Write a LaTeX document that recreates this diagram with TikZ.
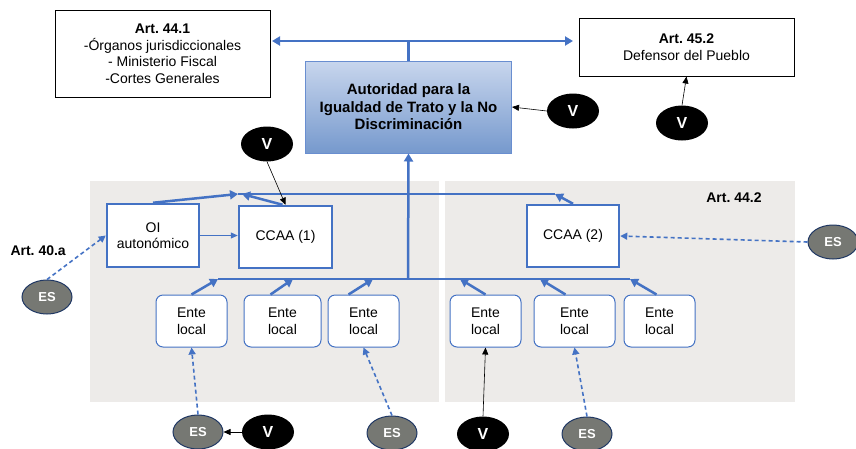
\documentclass[tikz,border=0pt]{standalone}
\usepackage{fontspec}
\setmainfont{Liberation Sans}
\usetikzlibrary{arrows.meta,shapes.geometric,positioning}
\frenchspacing
\definecolor{ablue}{RGB}{68,114,196}
\definecolor{panelgrey}{RGB}{237,235,233}
\definecolor{esgrey}{RGB}{118,120,115}
\definecolor{esborder}{RGB}{32,56,100}
\definecolor{authtop}{RGB}{200,214,237}
\definecolor{authbot}{RGB}{118,153,205}

\begin{document}
\begin{tikzpicture}[x=1pt, y=-1pt,
    every node/.style={font=\fontsize{14}{16.5}\selectfont},
    artbox/.style={draw, line width=1pt, align=center, inner sep=0pt},
    ccbox/.style={draw=ablue, line width=2.5pt, fill=white, align=center, inner sep=0pt},
    entebox/.style={draw=ablue, line width=1pt, fill=white, rounded corners=7pt,
        minimum height=52pt, align=center, inner sep=0pt},
    vnode/.style={ellipse, fill=black, minimum width=52pt, minimum height=35pt,
        text=white, font=\bfseries\fontsize{16}{18}\selectfont},
    esnode/.style={ellipse, draw=esborder, line width=1pt, fill=esgrey,
        minimum width=50pt, minimum height=34pt, text=white,
        font=\bfseries\fontsize{13}{15}\selectfont},
    bus/.style={ablue, line width=2.5pt},
    busarrow/.style={ablue, line width=2.5pt, -{Triangle[length=8pt,width=9pt]}},
    linkarrow/.style={ablue, line width=1pt, -{Triangle[length=7pt,width=6pt]}},
    esarrow/.style={ablue, line width=1.6pt, dash pattern=on 4pt off 3pt,
        -{Triangle[length=7pt,width=7pt]}},
    varrow/.style={black, line width=0.6pt, -{Triangle[length=7pt,width=6pt]}}]

    \useasboundingbox (0,0) rectangle (856,448);
    \fill[panelgrey] (90,181) rectangle (439,402);
    \fill[panelgrey] (445,181) rectangle (795,402);

    \node[artbox, minimum width=215pt, minimum height=87pt] (art441) at (162.5,53.5)
        {\textbf{Art. 44.1}\\-Órganos jurisdiccionales\\- Ministerio Fiscal\\-Cortes Generales};
    \node[artbox, minimum width=215pt, minimum height=58pt] (art452) at (686.5,47)
        {\textbf{Art. 45.2}\\Defensor del Pueblo};
    \node[draw=ablue!80, line width=1pt, top color=authtop, bottom color=authbot,
        minimum width=206pt, minimum height=92pt, align=center, inner sep=0pt,
        font=\bfseries\fontsize{15}{17.5}\selectfont] (auth) at (408.5,107)
        {Autoridad para la\\Igualdad de Trato y la No\\Discriminación};

    \node[ccbox, minimum width=92pt, minimum height=63pt] (oi) at (153,235.5) {OI\\autonómico};
    \node[ccbox, minimum width=93pt, minimum height=62pt] (ccaa1) at (285.5,237) {CCAA (1)};
    \node[ccbox, minimum width=92pt, minimum height=62pt] (ccaa2) at (573,236) {CCAA (2)};

    \node[entebox, minimum width=71pt] (ente1) at (191.5,321) {Ente\\local};
    \node[entebox, minimum width=77pt] (ente2) at (282.5,321) {Ente\\local};
    \node[entebox, minimum width=71pt] (ente3) at (363.5,321) {Ente\\local};
    \node[entebox, minimum width=71pt] (ente4) at (485.5,321) {Ente\\local};
    \node[entebox, minimum width=81pt] (ente5) at (574.5,321) {Ente\\local};
    \node[entebox, minimum width=71pt] (ente6) at (659.5,321) {Ente\\local};

    \node[font=\bfseries\fontsize{14}{16}\selectfont] (art442) at (734,198) {Art. 44.2};
    \node[font=\bfseries\fontsize{14}{16}\selectfont, anchor=west] (art40) at (7,251) {Art. 40.a};

    \node[vnode] (vauth) at (573,111) {V};
    \node[vnode] (vdef) at (682,123) {V};
    \node[vnode] (vccaa) at (267,144) {V};
    \node[vnode] (vbot1) at (268,432) {V};
    \node[vnode] (vbot2) at (483,434) {V};

    \node[esnode] (esleft) at (47,297) {ES};
    \node[esnode] (esright) at (833,242) {ES};
    \node[esnode] (esbot1) at (198,432) {ES};
    \node[esnode] (esbot2) at (392,433) {ES};
    \node[esnode] (esbot3) at (587,434) {ES};

    % bus points
    \coordinate (topl) at (272,41);
    \coordinate (topr) at (573,41);
    \coordinate (upl) at (238,194);
    \coordinate (upr) at (555,194);
    \coordinate (lowl) at (218,279);
    \coordinate (lowr) at (630,279);
    \coordinate (lowj) at (408,279);

    \draw[bus, {Triangle[length=8pt,width=9pt]}-{Triangle[length=8pt,width=9pt]}] (topl) -- (topr);
    \draw[bus] (auth.north) -- (auth.north |- topl);
    \draw[busarrow] (lowj) -- (auth.south);
    \draw[bus] (upl) -- (upr);
    \draw[bus] (lowl) -- (lowr);

    \draw[busarrow] (oi.north) -- (upl);
    \draw[busarrow] ([xshift=-3pt]ccaa1.north) -- ([xshift=4pt]upl);
    \draw[busarrow] (ccaa2.north) -- (upr);

    \draw[busarrow] (ente1.north) -- (lowl);
    \draw[busarrow] ([xshift=-12pt]ente2.north) -- (293,279);
    \draw[busarrow] ([xshift=-15pt]ente3.north) -- (373,279);
    \draw[busarrow] (ente4.north) -- (460,279);
    \draw[busarrow] ([xshift=-9pt]ente5.north) -- (540,279);
    \draw[busarrow] ([xshift=-3pt]ente6.north) -- (lowr);

    \draw[linkarrow] (oi.east) -- (ccaa1.west |- oi.east);

    \draw[varrow] (vauth.west) -- (auth.east);
    \draw[varrow] (vdef.north) -- (art452.south);
    \draw[varrow] (vccaa.south) -- (ccaa1.north);
    \draw[varrow] (vbot1.west) -- (esbot1.east);
    \draw[varrow] (vbot2.north) -- (ente4.south);

    \draw[esarrow] (esleft.north) -- (oi.west);
    \draw[esarrow] (esright.west) -- (ccaa2.east);
    \draw[esarrow] (esbot1.north) -- (ente1.south);
    \draw[esarrow] (esbot2.north) -- (ente3.south);
    \draw[esarrow] (esbot3.north) -- (ente5.south);
\end{tikzpicture}
\end{document}
